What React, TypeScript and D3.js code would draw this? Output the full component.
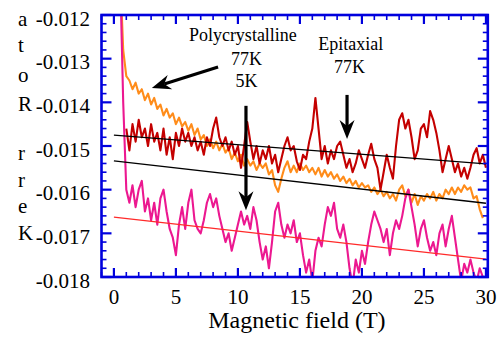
import React from 'react';
import * as d3 from 'd3';

// Kerr rotation values are in units of 1e-3, sampled every 0.25 T
const fieldStep = 0.25;

const poly77KStart = 0.5;
const poly77K = [
  -11.0, -12.8, -13.4, -13.5, -13.7, -13.55, -13.8, -13.7, -13.95, -13.8,
  -14.05, -13.9, -14.15, -14.05, -14.3, -14.15, -14.35, -14.25, -14.5, -14.35,
  -14.55, -14.45, -14.65, -14.5, -14.75, -14.6, -14.85, -14.75, -15.0, -14.85,
  -15.05, -14.9, -15.1, -14.95, -15.15, -15.05, -15.3, -15.15, -15.35, -15.2,
  -15.45, -15.3, -15.45, -15.35, -15.55, -15.4, -15.5, -15.4, -15.65, -15.55,
  -15.9, -16.05, -15.75, -15.5, -15.35, -15.6, -15.45, -15.6, -15.4, -15.55,
  -15.45, -15.6, -15.5, -15.65, -15.5, -15.7, -15.55, -15.7, -15.6, -15.75,
  -15.65, -15.8, -15.7, -15.85, -15.75, -15.9, -15.8, -15.95, -15.85, -15.95,
  -15.9, -16.05, -15.95, -16.1, -16.0, -16.15, -16.05, -16.2, -16.1, -16.25,
  -16.0, -15.9, -16.15, -16.0, -16.3, -16.1, -16.35, -16.15, -16.25, -16.1,
  -16.2, -16.05, -16.25, -16.1, -16.2, -16.0, -16.1, -15.95, -16.1, -15.95,
  -16.05, -15.9, -16.0, -15.95, -16.2, -16.15, -16.45, -16.65,
];

const epi77KStart = 1.0;
const epi77K = [
  -14.6, -15.1, -14.5, -14.9, -14.4, -14.8, -14.6, -15.0, -14.5, -14.9,
  -14.7, -15.1, -14.6, -15.2, -14.8, -15.3, -14.7, -15.0, -14.6, -14.9,
  -14.7, -15.0, -14.8, -15.1, -14.9, -15.2, -14.8, -15.0, -14.6, -14.35,
  -14.8, -15.0, -14.8, -15.1, -14.9, -15.2, -15.0, -15.5, -15.0, -14.45,
  -14.9, -15.3, -15.0, -15.4, -15.1, -15.3, -15.0, -15.4, -15.2, -15.6,
  -15.3, -15.0, -14.8, -15.1, -15.0, -15.35, -15.55, -15.2, -15.3, -14.9,
  -14.6, -13.9, -14.6, -15.3, -15.0, -15.4, -15.1, -15.3, -15.0, -14.9,
  -15.2, -15.5, -15.3, -15.6, -15.4, -15.1, -15.3, -15.5, -15.2, -14.95,
  -15.3, -15.5, -16.0, -15.6, -15.2, -15.5, -15.75, -15.0, -14.4, -14.25,
  -14.6, -14.4, -14.8, -15.3, -15.1, -14.6, -14.5, -14.8, -14.2, -14.4,
  -14.7, -15.1, -15.6, -15.3, -15.0, -15.3, -15.6, -15.4, -15.7, -15.5,
  -15.75, -15.5, -15.2, -15.05, -15.4, -15.2, -15.5,
];

const poly5KStart = 0.5;
const poly5K = [
  -11.0, -14.0, -16.0, -16.3, -15.9, -16.4, -16.0, -15.8, -16.5, -16.2,
  -16.7, -16.3, -16.8, -16.2, -16.0, -16.5, -16.9, -17.1, -17.5, -16.8,
  -16.4, -16.9, -16.3, -16.0, -16.7, -16.9, -17.0, -16.7, -16.3, -16.1,
  -16.4, -16.2, -16.6, -16.9, -17.2, -17.0, -17.4, -17.1, -16.8, -16.5,
  -16.8, -16.6, -16.9, -16.4, -16.7, -17.2, -17.6, -17.3, -17.8, -17.2,
  -16.5, -16.3, -16.8, -17.1, -16.8, -17.0, -16.7, -17.2, -17.0, -17.5,
  -17.9, -17.6, -18.1, -17.4, -17.1, -17.3, -16.8, -16.4, -16.6, -16.3,
  -16.9, -17.1, -16.8, -17.2, -17.8, -18.2, -17.6, -17.9, -17.4, -17.7,
  -17.2, -16.8, -16.5, -16.7, -16.9, -17.2, -16.9, -17.5, -17.0, -16.7,
  -16.9, -16.6, -16.2, -16.0, -16.4, -16.8, -17.3, -16.9, -16.7, -17.1,
  -17.4, -17.2, -17.5, -17.0, -16.8, -17.3, -16.9, -16.6, -17.1, -17.6,
  -18.1, -17.7, -17.9, -17.6, -17.9, -18.1, -17.8, -18.0,
];

// linear fits, evaluated at the ends of the field range
const fitField = [0, 30];
const fitEpi77K = [-14.75, -15.41];
const fitPoly77K = [-15.34, -16.31];
const fitPoly5K = [-16.63, -17.59];

const xMajorTicks = [0, 5, 10, 15, 20, 25, 30];
const yMajorTicks = [-18, -17, -16, -15, -14, -13, -12];

const width = 501;
const height = 341;
const font = '"Liberation Serif", "Times New Roman", serif';
const axisBlue = '#0000dd';

const x = d3.scaleLinear().domain([-1, 30.15]).range([101.5, 487.8]);
const y = d3.scaleLinear().domain([-18, -12]).range([277, 15]);

const toPoints = (start: number, vals: number[]) =>
  vals.map((v, i) => [start + i * fieldStep, v] as [number, number]);

const line = d3.line<[number, number]>().x(d => x(d[0])).y(d => y(d[1]));

const Arrow: React.FC<{ x1: number; y1: number; x2: number; y2: number }> = ({ x1, y1, x2, y2 }) => {
  const sx = x(x1), sy = y(y1), tx = x(x2), ty = y(y2);
  const len = Math.hypot(tx - sx, ty - sy);
  const ux = (tx - sx) / len, uy = (ty - sy) / len;
  const nx = -uy, ny = ux;
  const L = 19, W = 7.5, notch = 6;
  const bx = tx - ux * (L - notch), by = ty - uy * (L - notch);
  const head = [
    [tx, ty],
    [tx - ux * L + nx * W, ty - uy * L + ny * W],
    [bx, by],
    [tx - ux * L - nx * W, ty - uy * L - ny * W],
  ];
  return (
    <g>
      <line x1={sx} y1={sy} x2={bx} y2={by} stroke="#000" strokeWidth={3.2} />
      <polygon points={head.map(p => p.join(',')).join(' ')} fill="#000" />
    </g>
  );
};

const App: React.FC = () => {
  const [x0, x1] = x.range();
  const [y0, y1] = [y(-12), y(-18)];
  const xMinor = d3.range(-1, 31, 1).filter(v => !xMajorTicks.includes(v));
  const yMinor = d3.range(-18, -11.99, 0.2).filter(v => Math.abs(v - Math.round(v)) > 0.01);

  // broken vertical axis title, one upright letter at a time
  const titleLetters = [
    { ch: 'a', base: 26, w: 12 },
    { ch: 't', base: 52, w: 8 },
    { ch: 'o', base: 82, w: 12 },
    { ch: 'R', base: 111, w: 16 },
    { ch: 'r', base: 160, w: 9 },
    { ch: 'r', base: 187, w: 9 },
    { ch: 'e', base: 213, w: 11 },
    { ch: 'K', base: 240, w: 17 },
  ];

  const traceProps = { strokeWidth: 2.1, strokeLinejoin: 'round' as const };

  return (
    <div style={{ position: 'absolute', left: 0, top: 0 }}>
      <svg width={width} height={height} style={{ display: 'block', background: '#fff' }}>
        <defs>
          <clipPath id="plot-clip">
            <rect x={x0} y={y0} width={x1 - x0} height={y1 - y0} />
          </clipPath>
        </defs>

        <g clipPath="url(#plot-clip)" fill="none">
          <path d={line(toPoints(poly77KStart, poly77K)) || ''} stroke="#ff8c1a" {...traceProps} />
          <path d={line(toPoints(epi77KStart, epi77K)) || ''} stroke="#c40000" {...traceProps} />
          <path d={line(toPoints(poly5KStart, poly5K)) || ''} stroke="#ec1890" {...traceProps} />
          <path d={line(fitField.map((f, i) => [f, fitEpi77K[i]] as [number, number])) || ''} stroke="#000" strokeWidth={1.4} />
          <path d={line(fitField.map((f, i) => [f, fitPoly77K[i]] as [number, number])) || ''} stroke="#000" strokeWidth={1.4} />
          <path d={line(fitField.map((f, i) => [f, fitPoly5K[i]] as [number, number])) || ''} stroke="#ff2a2a" strokeWidth={1.2} />
        </g>

        {/* frame and ticks */}
        <g stroke={axisBlue}>
          {xMajorTicks.map(t => (
            <g key={'xM' + t}>
              <line x1={x(t)} x2={x(t)} y1={y1} y2={y1 - 9} strokeWidth={2.2} />
              <line x1={x(t)} x2={x(t)} y1={y0} y2={y0 + 9} strokeWidth={2.2} />
            </g>
          ))}
          {xMinor.map(t => (
            <g key={'xm' + t}>
              <line x1={x(t)} x2={x(t)} y1={y1} y2={y1 - 5} strokeWidth={1.6} />
              <line x1={x(t)} x2={x(t)} y1={y0} y2={y0 + 5} strokeWidth={1.6} />
            </g>
          ))}
          {yMajorTicks.map(t => (
            <g key={'yM' + t}>
              <line x1={x0} x2={x0 + 10} y1={y(t)} y2={y(t)} strokeWidth={2.2} />
              <line x1={x1} x2={x1 - 10} y1={y(t)} y2={y(t)} strokeWidth={2.2} />
            </g>
          ))}
          {yMinor.map(t => (
            <g key={'ym' + t.toFixed(1)}>
              <line x1={x0} x2={x0 + 5} y1={y(t)} y2={y(t)} strokeWidth={1.6} />
              <line x1={x1} x2={x1 - 5} y1={y(t)} y2={y(t)} strokeWidth={1.6} />
            </g>
          ))}
          <rect x={x0} y={y0} width={x1 - x0} height={y1 - y0} fill="none" strokeWidth={2.6} />
        </g>

        {/* tick labels */}
        <g fontFamily={font} fontSize={21} fill="#000">
          {xMajorTicks.map(t => (
            <text key={'xl' + t} x={x(t)} y={304} textAnchor="middle">{t}</text>
          ))}
          {yMajorTicks.map(t => (
            <text key={'yl' + t} x={90} y={y(t) + 10.5} textAnchor="end">{(t / 1000).toFixed(3)}</text>
          ))}
        </g>

        <g fontFamily={font} fontSize={21} fill="#000">
          {titleLetters.map((l, i) => (
            <g key={'tl' + i}>
              <rect x={17} y={l.base - 14} width={l.w} height={15} fill="#fff" />
              <text x={18} y={l.base}>{l.ch}</text>
            </g>
          ))}
        </g>

        <text x={(x(0) + x(30)) / 2 - 3} y={328} textAnchor="middle" fontFamily={font} fontSize={24} fill="#000">
          Magnetic field (T)
        </text>

        {/* annotations */}
        <g fontFamily={font} fontSize={18} fill="#000" textAnchor="middle">
          <text x={x(10.4)} y={41}>Polycrystalline</text>
          <text x={x(10.7)} y={65}>77K</text>
          <text x={x(10.7)} y={87}>5K</text>
          <text x={x(19.1)} y={50}>Epitaxial</text>
          <text x={x(19.0)} y={73}>77K</text>
        </g>
        <Arrow x1={8.4} y1={-13.19} x2={3.06} y2={-13.67} />
        <Arrow x1={18.8} y1={-13.83} x2={18.8} y2={-14.84} />
        <Arrow x1={10.65} y1={-14.08} x2={10.65} y2={-16.47} />
      </svg>
    </div>
  );
};

export default App;
